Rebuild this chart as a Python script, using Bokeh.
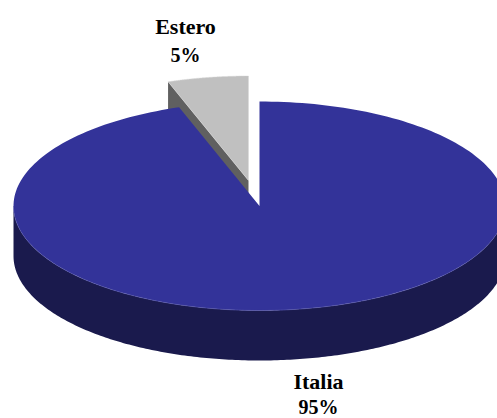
import numpy as np
from bokeh.embed import file_html
from bokeh.models import ColumnDataSource, Range1d
from bokeh.plotting import figure
from bokeh.resources import INLINE
from bokeh.core.properties import value

categories = ["Italia", "Estero"]
shares = [94.7, 5.3]
top_colors = ["#333399", "#C0C0C0"]
side_colors = ["#1A1A4D", "#606060"]

W, H = 497, 418
CX, CY, RX, RY, DEPTH = 259, 205.5, 246, 104.5, 50
EXPLODE_DX, EXPLODE_DY = -11, -25.5

p = figure(width=W, height=H, output_backend="svg", toolbar_location=None,
           x_range=Range1d(0, W), y_range=Range1d(H, 0),
           min_border=0, outline_line_color=None, background_fill_color="white",
           border_fill_color="white")
p.axis.visible = False
p.grid.visible = False


def rim(a0, a1, cx, cy):
    t = np.radians(np.linspace(a0, a1, 240))
    return cx + RX * np.sin(t), cy - RY * np.cos(t)


frac_main = shares[0] / sum(shares) * 360

# exploded slice: cut face first, everything else lies over it
ex, ey = CX + EXPLODE_DX, CY + EXPLODE_DY
sx, sy = rim(frac_main, 360, ex, ey)
p.patch([ex, sx[0], sx[0], ex], [ey, sy[0], sy[0] + DEPTH, ey + DEPTH],
        fill_color=side_colors[1], line_color=None)
p.patch(np.r_[ex, sx], np.r_[ey, sy], fill_color=top_colors[1],
        line_color="#D8D8D8", line_width=0.5)

# main slice: outer wall (front half) then top face
wx, wy = rim(90, 270, CX, CY)
p.patch(np.r_[wx, wx[::-1]], np.r_[wy, wy[::-1] + DEPTH],
        fill_color=side_colors[0], line_color=None)
mx, my = rim(0, frac_main, CX, CY)
p.patch(np.r_[CX, mx], np.r_[CY, my], fill_color=top_colors[0], line_color=None)
p.line(wx, wy, line_color="#5A5AAE", line_width=0.6)

# labels
label_x = [318, 185]
name_y = [381, 26]
pct_y = [406, 54]
names = ColumnDataSource(dict(x=label_x, y=name_y, t=categories))
pcts = ColumnDataSource(dict(x=label_x, y=pct_y, t=[f"{round(s)}%" for s in shares]))
for src, size in ((names, "22px"), (pcts, "20px")):
    p.text("x", "y", text="t", source=src, text_align="center", text_baseline="middle",
           text_font=value("Liberation Serif"), text_font_style="bold",
           text_font_size=size, text_color="#000000")

open("out.html", "w").write(file_html(p, INLINE))
